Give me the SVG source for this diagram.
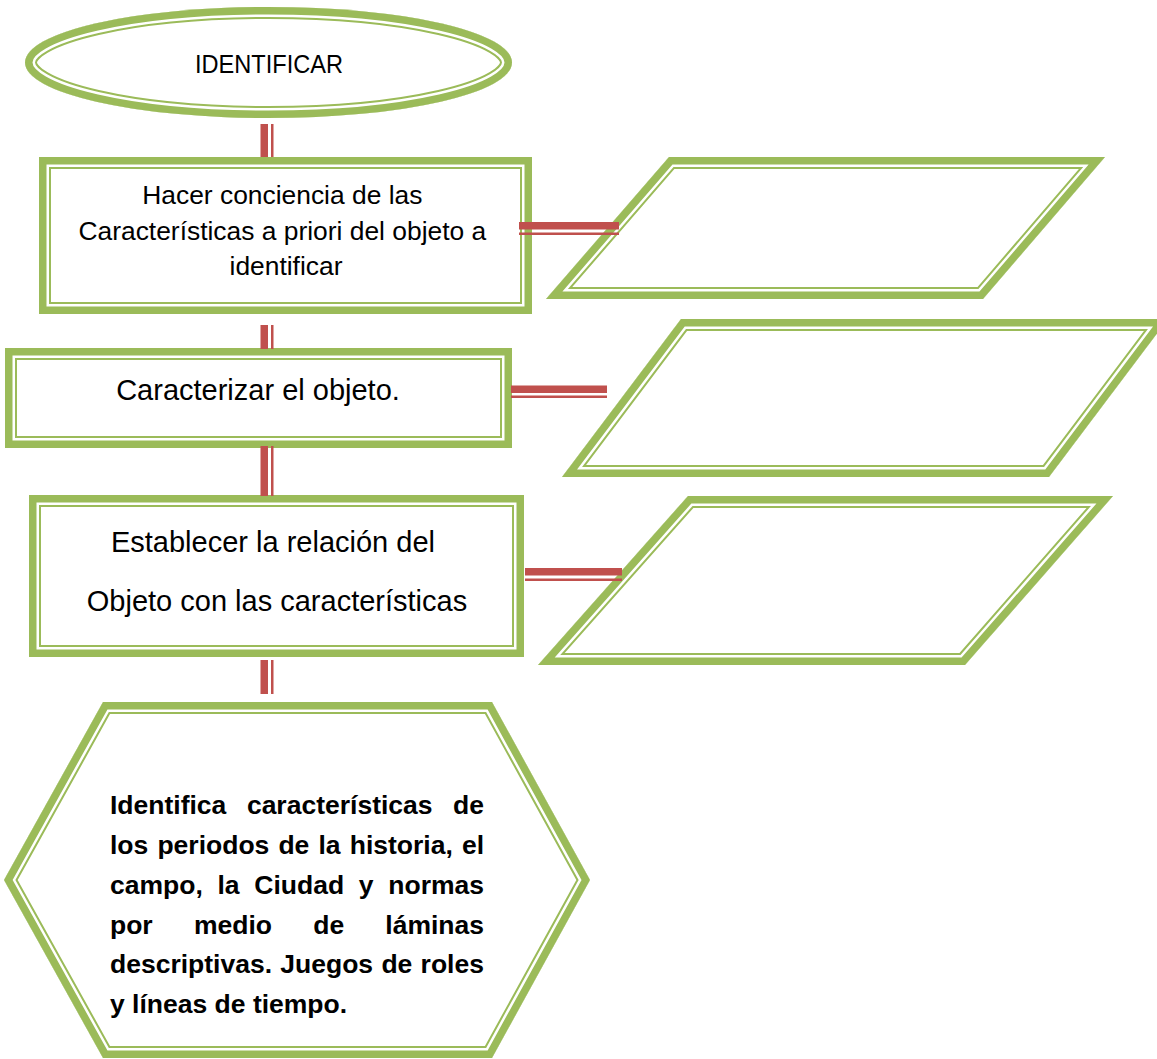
<svg xmlns="http://www.w3.org/2000/svg" xmlns:xlink="http://www.w3.org/1999/xlink" width="1157" height="1059" viewBox="0 0 1157 1059">
<style>
.b1{fill:#fff;stroke:#9BBB59;stroke-width:24;stroke-linejoin:miter;stroke-miterlimit:10}
.b2{fill:none;stroke:#fff;stroke-width:20;stroke-linejoin:miter;stroke-miterlimit:10}
.b3{fill:none;stroke:#9BBB59;stroke-width:15;stroke-linejoin:miter;stroke-miterlimit:10}
.t{font-family:"Liberation Sans",Arial,sans-serif;fill:#000}
.c{text-anchor:middle}
.hb{font-weight:bold;font-size:26.5px}
.cn{fill:#C0504D}
</style>
<defs>
  <ellipse id="s0" cx="268.5" cy="62.5" rx="243.5" ry="55.5"/>
  <rect id="s1" x="39" y="157" width="493" height="157"/>
  <rect id="s2" x="5" y="348" width="507" height="100"/>
  <rect id="s3" x="29" y="495" width="495" height="162"/>
  <polygon id="s4" points="103,702 492,702 590,880 492,1058 103,1058 4,880"/>
  <polygon id="s5" points="669,157 1105,157 983,299 546,299"/>
  <polygon id="s6" points="681,319 1168,319 1049,477 562,477"/>
  <polygon id="s7" points="688,496 1113,496 965,665 538,665"/>
  <clipPath id="k0"><use xlink:href="#s0"/></clipPath>
  <clipPath id="k1"><use xlink:href="#s1"/></clipPath>
  <clipPath id="k2"><use xlink:href="#s2"/></clipPath>
  <clipPath id="k3"><use xlink:href="#s3"/></clipPath>
  <clipPath id="k4"><use xlink:href="#s4"/></clipPath>
  <clipPath id="k5"><use xlink:href="#s5"/></clipPath>
  <clipPath id="k6"><use xlink:href="#s6"/></clipPath>
  <clipPath id="k7"><use xlink:href="#s7"/></clipPath>
</defs>
<rect width="1157" height="1059" fill="#fff"/>

<g id="start">
  <g clip-path="url(#k0)">
    <use xlink:href="#s0" class="b1"/><use xlink:href="#s0" class="b2"/><use xlink:href="#s0" class="b3"/>
  </g>
  <text class="t c" x="269" y="73" font-size="25" textLength="148" lengthAdjust="spacingAndGlyphs">IDENTIFICAR</text>
</g>

<g id="step1">
  <g clip-path="url(#k1)">
    <use xlink:href="#s1" class="b1"/><use xlink:href="#s1" class="b2"/><use xlink:href="#s1" class="b3"/>
  </g>
  <text class="t c" font-size="26.4">
    <tspan x="286" y="204">Hacer conciencia de las</tspan>
    <tspan x="286" y="239.5">Características a priori del objeto a</tspan>
    <tspan x="286" y="275">identificar</tspan>
  </text>
</g>

<g id="step2">
  <g clip-path="url(#k2)">
    <use xlink:href="#s2" class="b1"/><use xlink:href="#s2" class="b2"/><use xlink:href="#s2" class="b3"/>
  </g>
  <text class="t c" x="258" y="400" font-size="29">Caracterizar el objeto.</text>
</g>

<g id="step3">
  <g clip-path="url(#k3)">
    <use xlink:href="#s3" class="b1"/><use xlink:href="#s3" class="b2"/><use xlink:href="#s3" class="b3"/>
  </g>
  <text class="t c" font-size="29">
    <tspan x="277" y="552">Establecer la relación del</tspan>
    <tspan x="277" y="611">Objeto con las características</tspan>
  </text>
</g>

<g id="result">
  <g clip-path="url(#k4)">
    <use xlink:href="#s4" class="b1"/><use xlink:href="#s4" class="b2"/><use xlink:href="#s4" class="b3"/>
  </g>
  <text class="t hb" x="110" y="814" word-spacing="13.2">Identifica características de</text>
  <text class="t hb" x="110" y="854" word-spacing="1.76">los periodos de la historia, el</text>
  <text class="t hb" x="110" y="894" word-spacing="7.35">campo, la Ciudad y normas</text>
  <text class="t hb" x="110" y="934" word-spacing="33.87">por medio de láminas</text>
  <text class="t hb" x="110" y="973" word-spacing="0.93">descriptivas. Juegos de roles</text>
  <text class="t hb" x="110" y="1013">y líneas de tiempo.</text>
</g>

<g id="out1">
  <g clip-path="url(#k5)">
    <use xlink:href="#s5" class="b1"/><use xlink:href="#s5" class="b2"/><use xlink:href="#s5" class="b3"/>
  </g>
</g>
<g id="out2">
  <g clip-path="url(#k6)">
    <use xlink:href="#s6" class="b1"/><use xlink:href="#s6" class="b2"/><use xlink:href="#s6" class="b3"/>
  </g>
</g>
<g id="out3">
  <g clip-path="url(#k7)">
    <use xlink:href="#s7" class="b1"/><use xlink:href="#s7" class="b2"/><use xlink:href="#s7" class="b3"/>
  </g>
</g>

<g id="connectors" class="cn">
  <rect x="260.5" y="124" width="7.5" height="33"/><rect x="271" y="124" width="2.5" height="33"/>
  <rect x="260.5" y="325" width="7.5" height="24"/><rect x="271" y="325" width="2.5" height="24"/>
  <rect x="260.5" y="446" width="7.5" height="50"/><rect x="271" y="446" width="2.5" height="50"/>
  <rect x="260.5" y="660" width="7.5" height="34"/><rect x="271" y="660" width="2.5" height="34"/>
  <rect x="519" y="222" width="100" height="7.5"/><rect x="519" y="232.5" width="100" height="2.5"/>
  <rect x="511" y="385.5" width="96" height="7.5"/><rect x="511" y="395.5" width="96" height="2.5"/>
  <rect x="525" y="568" width="97" height="7.5"/><rect x="525" y="578.5" width="97" height="2.5"/>
</g>
</svg>
